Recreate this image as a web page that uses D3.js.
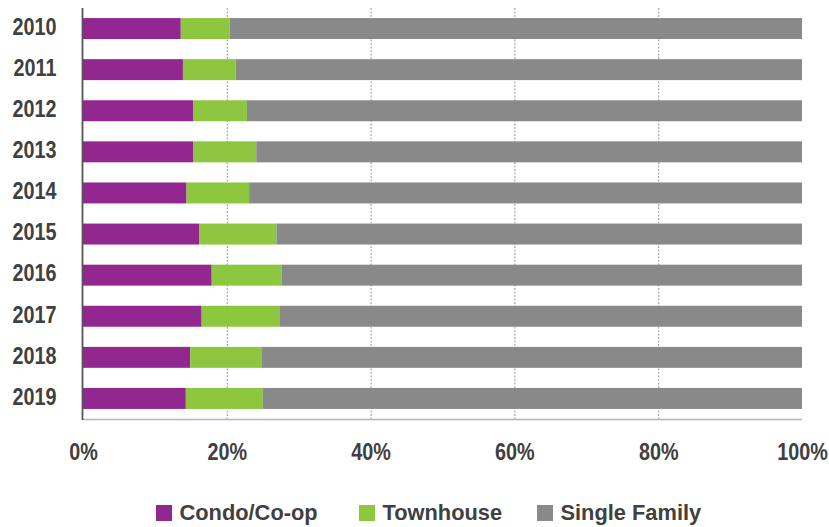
<!DOCTYPE html>
<html><head><meta charset="utf-8">
<script src="https://cdn.jsdelivr.net/npm/d3@7"></script>
<style>
body{margin:0;background:#fff;}
svg{display:block;}
text{font-family:"Liberation Sans",Arial,sans-serif;font-weight:bold;fill:#404040;}
</style></head>
<body><svg id="c" width="829" height="527"></svg>
<script>
const years = ["2010","2011","2012","2013","2014","2015","2016","2017","2018","2019"];
const condo = [13.6,13.9,15.3,15.3,14.4,16.2,17.9,16.5,14.9,14.3];
const townhouse = [6.8,7.35,7.5,8.8,8.7,10.7,9.7,10.9,10.0,10.7];
const singleFamily = condo.map((c,i)=>+(100-c-townhouse[i]).toFixed(2));
const seriesNames = ["Condo/Co-op","Townhouse","Single Family"];
const colors = ["#92278f","#8dc63f","#898989"];
const xTicks = [0,20,40,60,80,100];

const svg = d3.select("#c");
const L = 83, R = 802, T = 8, B = 419;
const x = d3.scaleLinear().domain([0,100]).range([L,R]);
const y = d3.scaleBand().domain(years).range([T,B]).paddingInner(0.49).paddingOuter(0.245);

// gridlines
svg.append("g").selectAll("line").data(xTicks.filter(t=>t>0&&t<100)).join("line")
  .attr("x1",d=>x(d)+0.5).attr("x2",d=>x(d)+0.5).attr("y1",T).attr("y2",B)
  .attr("stroke","#9a9a9a").attr("stroke-width",1).attr("stroke-dasharray","2,1.5");

const rows = years.map((yr,i)=>({yr, vals:[condo[i],townhouse[i],singleFamily[i]]}));
const stack = d3.stack().keys([0,1,2]).value((d,k)=>d.vals[k]);
const stacked = stack(rows);
svg.append("g").selectAll("g").data(stacked).join("g")
  .attr("fill",(d,i)=>colors[i])
  .selectAll("rect").data(d=>d).join("rect")
  .attr("x",d=>x(d[0])).attr("width",d=>x(Math.min(d[1],100))-x(d[0]))
  .attr("y",d=>y(d.data.yr)).attr("height",y.bandwidth());

// bottom axis line
svg.append("line").attr("x1",L).attr("x2",R).attr("y1",B+0.5).attr("y2",B+0.5)
  .attr("stroke","#b5b5b5").attr("stroke-width",1.5);
// left axis line
svg.append("line").attr("x1",L-0.5).attr("x2",L-0.5).attr("y1",T).attr("y2",B+1)
  .attr("stroke","#555").attr("stroke-width",1.8);

const SX = 0.86;
// y labels
const ya = d3.axisLeft(y).tickSize(0).tickPadding(27);
const gy = svg.append("g").attr("transform",`translate(${L},0)`).call(ya);
gy.select(".domain").remove();
gy.selectAll("text").attr("font-family",null).attr("font-size",null).style("font-size","23px").attr("fill","#404040")
  .attr("x",0).attr("dy",null).attr("y",0)
  .attr("transform",`translate(-26.5,6.3) scale(${SX},1)`);

// x labels
const xa = d3.axisBottom(x).tickValues(xTicks).tickFormat(d=>d+"%").tickSize(0);
const gx = svg.append("g").attr("transform",`translate(0,${B})`).call(xa);
gx.select(".domain").remove();
gx.selectAll("text").attr("font-family",null).attr("font-size",null).style("font-size","23px").attr("fill","#404040")
  .attr("y",0).attr("dy",null)
  .attr("transform",`translate(0,41.3) scale(${SX},1)`);

// legend
const legX = [156, 359, 537];
const lg = svg.append("g").selectAll("g").data(seriesNames).join("g")
  .attr("transform",(d,i)=>`translate(${legX[i]},505)`);
lg.append("rect").attr("width",16).attr("height",16).attr("fill",(d,i)=>colors[i]);
lg.append("text").attr("transform","translate(23.5,15.3) scale(0.97,1)").style("font-size","22.5px").text(d=>d);
</script></body></html>
